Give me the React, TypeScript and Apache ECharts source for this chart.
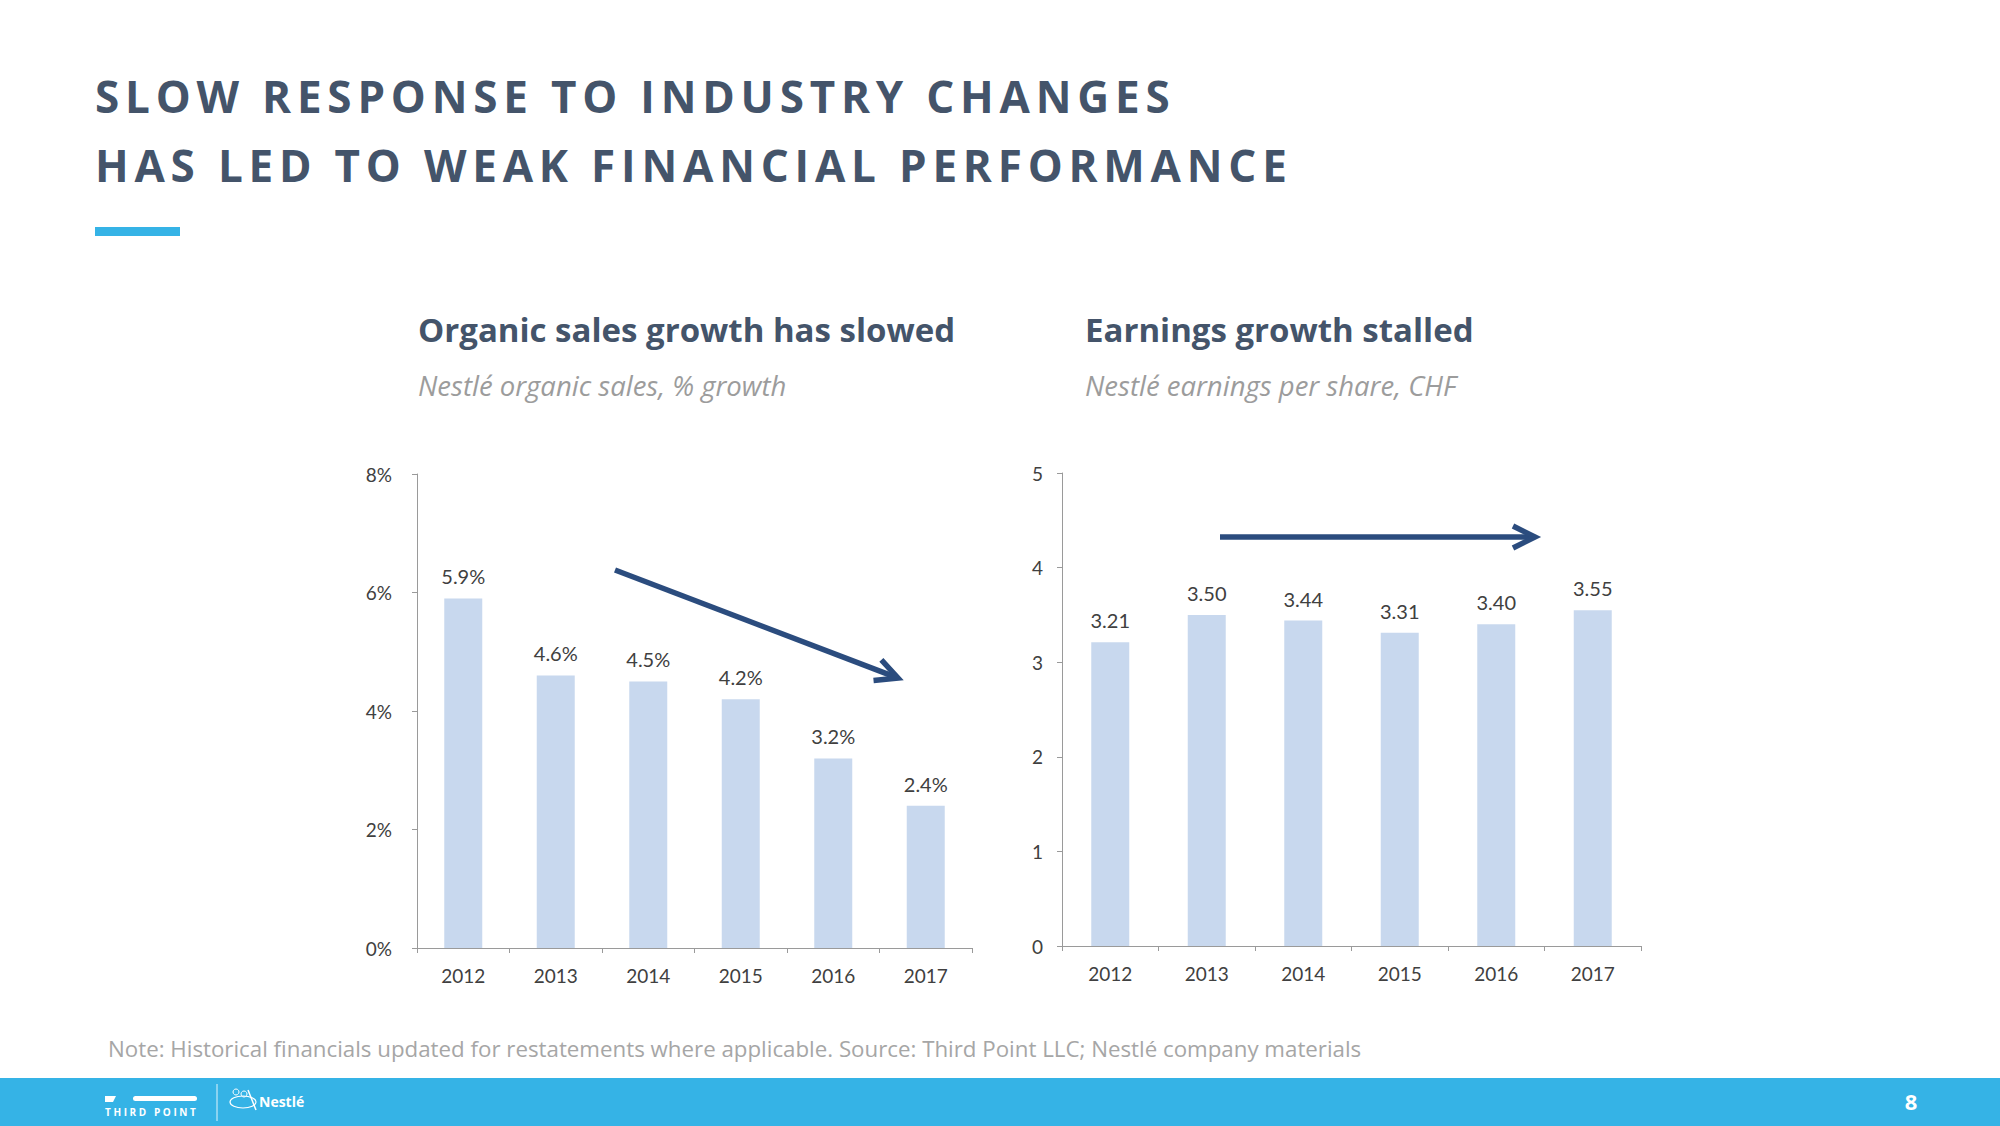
import React, { useEffect, useRef } from "react";
import * as echarts from "echarts";

const years = ["2012", "2013", "2014", "2015", "2016", "2017"];
const organicGrowth = [5.9, 4.6, 4.5, 4.2, 3.2, 2.4];
const eps = [3.21, 3.5, 3.44, 3.31, 3.4, 3.55];

const slideTitle = ["SLOW RESPONSE TO INDUSTRY CHANGES", "HAS LED TO WEAK FINANCIAL PERFORMANCE"];
const leftTitle = "Organic sales growth has slowed";
const leftSub = "Nestlé organic sales, % growth";
const rightTitle = "Earnings growth stalled";
const rightSub = "Nestlé earnings per share, CHF";
const note = "Note: Historical financials updated for restatements where applicable. Source: Third Point LLC; Nestlé company materials";

const SLATE = "#44546a";
const AXIS = "#9a9a9a";
const LABEL = "#404040";
const BAR = "#c8d8ee";
const ARROW = "#2b4c7e";
const BLUE = "#35b3e6";

const spacingMap: Record<string, string> = {
  [slideTitle[0]]: "5.8px",
  [slideTitle[1]]: "5.8px",
  "THIRD POINT": "2.6px",
};

function arrow(x1: number, y1: number, x2: number, y2: number) {
  const dx = x2 - x1, dy = y2 - y1;
  const len = Math.sqrt(dx * dx + dy * dy);
  const ux = dx / len, uy = dy / len;
  const px = -uy, py = ux;
  const back = 22, half = 11;
  return [
    {
      type: "line",
      shape: { x1, y1, x2: x2 - ux * 4, y2: y2 - uy * 4 },
      style: { stroke: ARROW, lineWidth: 5.5, lineCap: "butt" },
    },
    {
      type: "polyline",
      shape: {
        points: [
          [x2 - ux * back + px * half, y2 - uy * back + py * half],
          [x2, y2],
          [x2 - ux * back - px * half, y2 - uy * back - py * half],
        ],
      },
      style: { stroke: ARROW, lineWidth: 5.5, fill: null, lineJoin: "miter", lineCap: "butt" },
    },
  ];
}

function txt(x: number, y: number, text: string, font: any, fill: string, align = "left") {
  return {
    type: "text",
    x,
    y,
    style: { text, fill, align, verticalAlign: "middle", ...font },
  };
}

export default function App() {
  const ref = useRef<HTMLDivElement>(null);
  useEffect(() => {
    const el = ref.current!;
    const chart = echarts.init(el, null, { renderer: "svg" });
    const axisCommon = {
      axisLine: { show: true, lineStyle: { color: AXIS, width: 1 } },
      axisTick: { show: true, length: 5, lineStyle: { color: AXIS, width: 1 } },
      splitLine: { show: false },
    };
    const axisFont = { color: LABEL, fontSize: 19, fontFamily: "Lato" };
    const barFont = { color: LABEL, fontSize: 20, fontFamily: "Lato" };
    const option: any = {
      animation: false,
      backgroundColor: "#ffffff",
      grid: [
        { left: 417, top: 474, width: 555, height: 474 },
        { left: 1062, top: 473, width: 579, height: 473 },
      ],
      xAxis: [
        { type: "category", gridIndex: 0, data: years, ...axisCommon, axisLabel: { ...axisFont, margin: 18 } },
        { type: "category", gridIndex: 1, data: years, ...axisCommon, axisLabel: { ...axisFont, margin: 18 } },
      ],
      yAxis: [
        {
          type: "value", gridIndex: 0, min: 0, max: 8, interval: 2, ...axisCommon,
          axisLabel: { ...axisFont, margin: 25, formatter: "{value}%" },
        },
        {
          type: "value", gridIndex: 1, min: 0, max: 5, interval: 1, ...axisCommon,
          axisLabel: { ...axisFont, margin: 19 },
        },
      ],
      series: [
        {
          type: "bar", xAxisIndex: 0, yAxisIndex: 0, data: organicGrowth, barWidth: 38,
          itemStyle: { color: BAR },
          label: { show: true, position: "top", distance: 12, ...barFont, formatter: (p: any) => p.value.toFixed(1) + "%" },
        },
        {
          type: "bar", xAxisIndex: 1, yAxisIndex: 1, data: eps, barWidth: 38,
          itemStyle: { color: BAR },
          label: { show: true, position: "top", distance: 12, ...barFont, formatter: (p: any) => p.value.toFixed(2) },
        },
      ],
      graphic: [
        txt(95, 96, slideTitle[0], { fontFamily: "Open Sans", fontWeight: "bold", fontSize: 44 }, SLATE),
        txt(95, 165, slideTitle[1], { fontFamily: "Open Sans", fontWeight: "bold", fontSize: 44 }, SLATE),
        { type: "rect", shape: { x: 95, y: 227, width: 85, height: 9 }, style: { fill: BLUE } },
        txt(418, 329, leftTitle, { fontFamily: "Open Sans", fontWeight: "bold", fontSize: 33 }, SLATE),
        txt(418, 385, leftSub, { fontFamily: "Open Sans", fontStyle: "italic", fontWeight: 400, fontSize: 27.5 }, "#9c9c9c"),
        txt(1085, 329, rightTitle, { fontFamily: "Open Sans", fontWeight: "bold", fontSize: 33 }, SLATE),
        txt(1085, 385, rightSub, { fontFamily: "Open Sans", fontStyle: "italic", fontWeight: 400, fontSize: 27.5 }, "#9c9c9c"),
        ...arrow(615, 570, 898, 678),
        ...arrow(1220, 537, 1535, 537),
        txt(108, 1048, note, { fontFamily: "Open Sans", fontWeight: 400, fontSize: 22.3 }, "#a6a6a6"),
        { type: "rect", shape: { x: 0, y: 1078, width: 2000, height: 48 }, style: { fill: BLUE } },
        { type: "polygon", shape: { points: [[105, 1096], [116, 1096], [113, 1102], [105, 1102]] }, style: { fill: "#ffffff" } },
        { type: "rect", shape: { x: 133, y: 1096, width: 64, height: 5, r: 2.5 }, style: { fill: "#ffffff" } },
        txt(105, 1112, "THIRD POINT", { fontFamily: "Open Sans", fontWeight: "bold", fontSize: 10 }, "#ffffff"),
        { type: "line", shape: { x1: 217, y1: 1084, x2: 217, y2: 1121 }, style: { stroke: "#ffffff", lineWidth: 1, opacity: 0.85 } },
        { type: "ellipse", shape: { cx: 243, cy: 1102, rx: 13, ry: 6 }, style: { stroke: "#ffffff", lineWidth: 1.2, fill: null } },
        { type: "circle", shape: { cx: 236, cy: 1092, r: 3 }, style: { stroke: "#ffffff", lineWidth: 1, fill: null } },
        { type: "circle", shape: { cx: 244, cy: 1094, r: 3 }, style: { stroke: "#ffffff", lineWidth: 1, fill: null } },
        { type: "line", shape: { x1: 248, y1: 1090, x2: 256, y2: 1110 }, style: { stroke: "#ffffff", lineWidth: 1.5 } },
        txt(259, 1101, "Nestlé", { fontFamily: "Open Sans", fontWeight: "bold", fontSize: 14 }, "#ffffff"),
        txt(1911, 1101, "8", { fontFamily: "Open Sans", fontWeight: "bold", fontSize: 22 }, "#ffffff", "center"),
      ],
    };
    chart.setOption(option);
    const applySpacing = () => {
      el.querySelectorAll("text").forEach((t) => {
        const s = spacingMap[(t.textContent || "").trim()];
        if (s) t.setAttribute("letter-spacing", s);
      });
    };
    chart.on("rendered", applySpacing);
    applySpacing();
    const timer = setTimeout(applySpacing, 50);
    return () => {
      clearTimeout(timer);
      chart.dispose();
    };
  }, []);
  return (
    <div
      ref={ref}
      style={{ position: "absolute", left: 0, top: 0, width: 2000, height: 1126, background: "#fff" }}
    />
  );
}
